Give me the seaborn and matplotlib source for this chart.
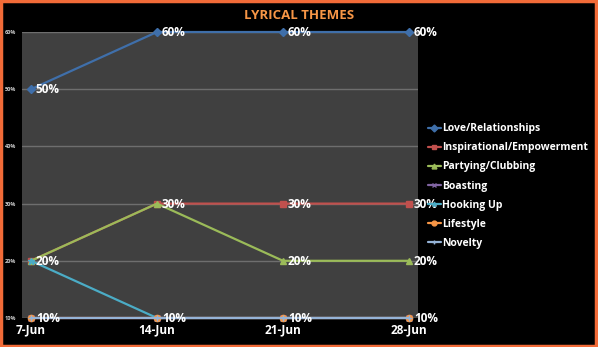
import matplotlib
matplotlib.use("Agg")
import matplotlib.pyplot as plt
from matplotlib.patches import Rectangle
from matplotlib.lines import Line2D
from matplotlib.ticker import FuncFormatter
import seaborn as sns
import pandas as pd

# Weekly share of songs per lyrical theme
weeks = ["7-Jun", "14-Jun", "21-Jun", "28-Jun"]
love_relationships = [0.50, 0.60, 0.60, 0.60]
inspirational = [0.20, 0.30, 0.30, 0.30]
partying_clubbing = [0.20, 0.30, 0.20, 0.20]
boasting = [0.10, 0.10, 0.10, 0.10]
hooking_up = [0.20, 0.10, 0.10, 0.10]
lifestyle = [0.10, 0.10, 0.10, 0.10]
novelty = [0.10, 0.10, 0.10, 0.10]

themes = ["Love/Relationships", "Inspirational/Empowerment", "Partying/Clubbing",
          "Boasting", "Hooking Up", "Lifestyle", "Novelty"]
series = [love_relationships, inspirational, partying_clubbing, boasting,
          hooking_up, lifestyle, novelty]
colors = ["#3F6FAA", "#C0504D", "#9BBB59", "#8064A2", "#4BACC6", "#F79646", "#95B3D7"]
markers = ["D", "s", "^", "x", "*", "o", "+"]

rows = []
for name, vals in zip(themes, series):
    for i, (w, v) in enumerate(zip(weeks, vals)):
        rows.append({"theme": name, "week": w, "pos": i, "share": v})
df = pd.DataFrame(rows)

sns.set_style("dark")
plt.rcParams["font.family"] = ["Open Sans", "DejaVu Sans"]
plt.rcParams["font.weight"] = "bold"

fig = plt.figure(figsize=(5.98, 3.47), dpi=100, facecolor="black")
ax = fig.add_axes([22 / 598, 29 / 347, 396 / 598, 286 / 347])
ax.set_facecolor("#404040")

palette = dict(zip(themes, colors))
for k, name in enumerate(themes):
    sub = df[df["theme"] == name]
    sns.lineplot(data=sub, x="pos", y="share", color=palette[name], lw=1.6,
                 marker=markers[k], markersize=4.5, markeredgecolor=palette[name],
                 markeredgewidth=1.0, ax=ax, zorder=3 + k, legend=False, clip_on=False)

# value labels, one per distinct position
seen = set()
for name, vals in zip(themes, series):
    for i, v in enumerate(vals):
        key = (i, round(v, 3))
        if key in seen:
            continue
        seen.add(key)
        ax.annotate(f"{v:.0%}", (i, v), xytext=(3.5, -0.5), textcoords="offset points",
                    ha="left", va="center", color="white", fontsize=8.5,
                    fontweight="bold", zorder=20, annotation_clip=False)

ax.set_xlim(-0.071, 3.071)
ax.set_ylim(0.10, 0.60)
ax.set_yticks([0.1, 0.2, 0.3, 0.4, 0.5, 0.6])
ax.yaxis.set_major_formatter(FuncFormatter(lambda y, _: f"{y:.0%}"))
ax.set_xticks(range(len(weeks)))
ax.set_xticklabels(weeks)
ax.tick_params(axis="y", labelsize=4, colors="#d0d0d0", length=0, pad=4)
ax.tick_params(axis="x", labelsize=8.5, colors="white", length=0, pad=4)
for lbl in ax.get_xticklabels():
    lbl.set_fontweight("bold")
ax.grid(axis="y", color="#6E6E6E", lw=1)
ax.grid(axis="x", visible=False)
ax.set_xlabel("")
ax.set_ylabel("")
for s in ax.spines.values():
    s.set_visible(False)

fig.text(0.5, 0.955, "LYRICAL THEMES", ha="center", va="center",
         color="#F79646", fontsize=9.5, fontweight="bold")

handles = [Line2D([0], [0], color=c, lw=1.6, marker=m, markersize=3.5,
                  markeredgecolor=c) for c, m in zip(colors, markers)]
leg = fig.legend(handles, themes, loc="upper left", bbox_to_anchor=(424 / 598, 1 - 119 / 347),
                 frameon=False, fontsize=7.5, handlelength=1.2, handletextpad=0.15,
                 labelspacing=0.78, borderaxespad=0)
for t in leg.get_texts():
    t.set_color("white")
    t.set_fontweight("bold")

fig.patches.append(Rectangle((0.002, 0.003), 0.994, 0.994, transform=fig.transFigure,
                             fill=False, edgecolor="#F26B38", lw=2.5))

fig.savefig("out.png", dpi=100, facecolor="black")
